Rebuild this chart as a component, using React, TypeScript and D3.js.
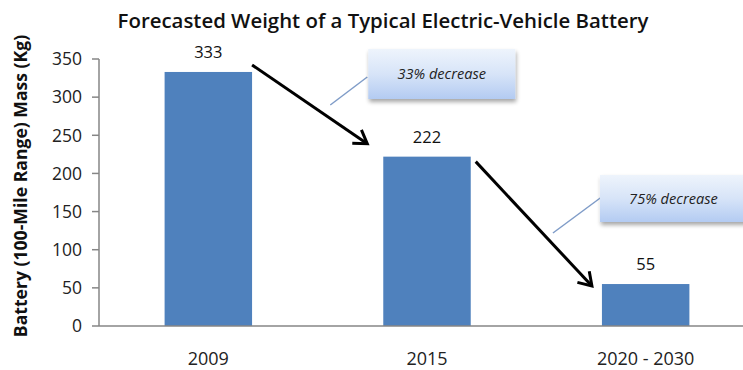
import React from "react";
import * as d3 from "d3";

// Battery mass for a 100-mile range pack, by period
const categories = ["2009", "2015", "2020 - 2030"];
const massKg = [333, 222, 55];
const yTicks = [0, 50, 100, 150, 200, 250, 300, 350];

const W = 743;
const H = 370;
const FONT = "'Open Sans', Lato, sans-serif";

export default function App() {
  const plot = { left: 99, right: 755, top: 59, bottom: 326 };

  const x = d3
    .scaleBand<string>()
    .domain(categories)
    .range([plot.left, plot.right])
    .paddingInner(0.6)
    .paddingOuter(0.3);

  const y = d3.scaleLinear().domain([0, 350]).range([plot.bottom, plot.top]);

  const bars = categories.map((c, i) => ({
    c,
    v: massKg[i],
    x0: x(c)!,
    x1: x(c)! + x.bandwidth(),
    yTop: y(massKg[i]),
  }));

  // Decrease annotations between consecutive bars
  const steps = [0, 1].map((i) => {
    const a = bars[i];
    const b = bars[i + 1];
    const pct = Math.round(((a.v - b.v) / a.v) * 100);
    const start: [number, number] = i === 0 ? [a.x1, a.yTop - 7] : [a.x1 + 5, a.yTop + 5];
    const end: [number, number] = i === 0 ? [b.x0 - 16, b.yTop - 13] : [b.x0 - 10, b.yTop + 2];
    const box = i === 0
      ? { x: b.x0 - 15, y: 49, w: 147, h: 50 }
      : { x: b.x0 - 2, y: 175, w: 147, h: 47 };
    const leader: [number, number][] = i === 0
      ? [[box.x - 38, box.y + 56], [box.x - 1, box.y + 28]]
      : [[box.x - 47, box.y + 58], [box.x + 3, box.y + 21]];
    return { pct, start, end, box, leader };
  });

  const arrowHead = (s: [number, number], e: [number, number]) => {
    const ang = Math.atan2(e[1] - s[1], e[0] - s[0]);
    const len = 15;
    const spread = Math.PI / 5.5;
    const p1 = [e[0] - len * Math.cos(ang - spread), e[1] - len * Math.sin(ang - spread)];
    const p2 = [e[0] - len * Math.cos(ang + spread), e[1] - len * Math.sin(ang + spread)];
    return `M${p1[0]},${p1[1]}L${e[0]},${e[1]}L${p2[0]},${p2[1]}`;
  };

  return (
    <svg width={W} height={H} style={{ display: "block", position: "absolute", left: 0, top: 0 }} fontFamily={FONT}>
      <defs>
        <linearGradient id="calloutFill" x1="0" y1="0" x2="0" y2="1">
          <stop offset="0" stopColor="#eef4fc" />
          <stop offset="0.5" stopColor="#d7e4f8" />
          <stop offset="1" stopColor="#b3cbf2" />
        </linearGradient>
        <filter id="calloutShadow" x="-10%" y="-10%" width="130%" height="150%">
          <feGaussianBlur in="SourceAlpha" stdDeviation="2" />
          <feOffset dx="1" dy="3" result="off" />
          <feComponentTransfer>
            <feFuncA type="linear" slope="0.35" />
          </feComponentTransfer>
          <feMerge>
            <feMergeNode />
            <feMergeNode in="SourceGraphic" />
          </feMerge>
        </filter>
      </defs>
      <rect width={W} height={H} fill="#ffffff" />

      {/* Title */}
      <text x={383} y={28} textAnchor="middle" fontSize={20.4} fontWeight={600} fill="#111">
        Forecasted Weight of a Typical Electric-Vehicle Battery
      </text>

      {/* Y axis title */}
      <text
        transform={`translate(27,186) rotate(-90)`}
        textAnchor="middle"
        fontSize={17.6}
        fontWeight={700}
        fill="#111"
      >
        Battery (100-Mile Range) Mass (Kg)
      </text>

      {/* Bars */}
      {bars.map((b) => (
        <rect key={b.c} x={b.x0} y={b.yTop} width={b.x1 - b.x0} height={plot.bottom - b.yTop} fill="#4f81bd" />
      ))}

      {/* Axes */}
      <line x1={plot.left} x2={plot.left} y1={plot.top} y2={plot.bottom} stroke="#868686" strokeWidth={1.5} />
      <line x1={plot.left} x2={W} y1={plot.bottom} y2={plot.bottom} stroke="#868686" strokeWidth={1.5} />
      {yTicks.map((t) => (
        <g key={t}>
          <line x1={plot.left - 7} x2={plot.left} y1={y(t)} y2={y(t)} stroke="#868686" strokeWidth={1.5} />
          <text x={82} y={y(t)} dy="0.36em" textAnchor="end" fontSize={17.5} fill="#222">
            {t}
          </text>
        </g>
      ))}
      {categories.map((c) => (
        <text key={c} x={x(c)! + x.bandwidth() / 2} y={365} textAnchor="middle" fontSize={18} fill="#222">
          {c}
        </text>
      ))}

      {/* Value labels */}
      {bars.map((b) => (
        <text key={b.c} x={(b.x0 + b.x1) / 2} y={b.yTop - 14} textAnchor="middle" fontSize={16.5} fill="#111">
          {b.v}
        </text>
      ))}

      {/* Decrease arrows and callouts */}
      {steps.map((s, i) => (
        <g key={i}>
          <line
            x1={s.leader[0][0]}
            y1={s.leader[0][1]}
            x2={s.leader[1][0]}
            y2={s.leader[1][1]}
            stroke="#7f9cc8"
            strokeWidth={1.5}
          />
          <rect x={s.box.x} y={s.box.y} width={s.box.w} height={s.box.h} fill="url(#calloutFill)" filter="url(#calloutShadow)" />
          <text
            x={s.box.x + s.box.w / 2}
            y={s.box.y + s.box.h / 2}
            dy="0.35em"
            textAnchor="middle"
            fontSize={14.6}
            fontStyle="italic"
            fill="#222"
          >
            {`${s.pct}% decrease`}
          </text>
          <line x1={s.start[0]} y1={s.start[1]} x2={s.end[0]} y2={s.end[1]} stroke="#000" strokeWidth={3} />
          <path d={arrowHead(s.start, s.end)} fill="none" stroke="#000" strokeWidth={3} strokeLinejoin="miter" />
        </g>
      ))}
    </svg>
  );
}
